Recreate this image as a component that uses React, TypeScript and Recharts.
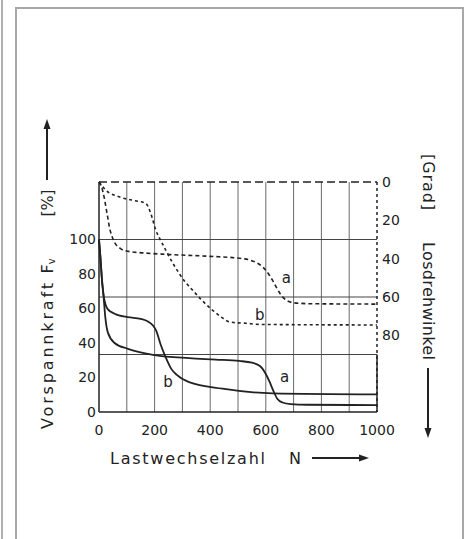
import React from 'react';
import { LineChart, Line, XAxis, YAxis, ReferenceLine, ReferenceDot } from 'recharts';

// Lastwechselzahl N ticks
const xTicks = [0, 200, 400, 600, 800, 1000];
const leftTicks = [0, 20, 40, 60, 80, 100];
const rightTicks = [0, 20, 40, 60, 80];
const vGrid = [100, 200, 300, 400, 500, 600, 700, 800, 900];
const hGrid = [100 / 3, 200 / 3, 100];

// Vorspannkraft F_v [%], curve a (solid)
const forceA_N = [0, 5, 10, 17, 22, 32, 56, 104, 200, 324, 420, 504, 550, 580, 600, 615, 628, 642, 660, 690, 750, 1000];
const forceA_V = [100, 90, 78, 66, 56, 46, 40, 36.6, 33, 31.2, 30.4, 29.6, 28.6, 26.5, 22, 17, 12, 7.5, 5.5, 4.6, 4.2, 4];

// Vorspannkraft F_v [%], curve b (solid)
const forceB_N = [0, 5, 10, 17, 24, 32, 56, 104, 150, 176, 195, 206, 222, 240, 260, 280, 324, 444, 624, 1000];
const forceB_V = [100, 90, 78, 67, 62, 59.5, 57, 55, 54, 52.5, 50, 47, 39, 31.7, 25, 21.5, 17.3, 13.5, 10.8, 10.2];

// Losdrehwinkel [Grad], curve a (dashed)
const angleA_N = [0, 8, 14, 20, 26, 32, 38, 46, 56, 75, 98, 160, 250, 400, 506, 540, 565, 590, 610, 625, 640, 655, 675, 700, 760, 1000];
const angleA_V = [0, 2, 5, 9, 14, 19, 24, 28, 31.5, 34.5, 36, 37, 37.8, 38.8, 39.8, 40.6, 42, 44.5, 48, 51.5, 55.5, 59, 61.8, 63, 63.5, 63.7];

// Losdrehwinkel [Grad], curve b (dashed)
const angleB_N = [0, 8, 24, 72, 130, 168, 186, 204, 222, 240, 264, 288, 312, 336, 372, 408, 440, 468, 500, 528, 576, 1000];
const angleB_V = [0, 1.5, 4.2, 7.7, 9.8, 11.1, 16.3, 25, 30.5, 35.5, 42, 47.6, 52.5, 56.3, 62, 66.8, 70.5, 72.9, 73.5, 73.7, 74.3, 74.6];

// curve labels: [name, N, value]
const forceLabels: [string, number, number][] = [['a', 668, 20.3], ['b', 248, 17.4]];
const angleLabels: [string, number, number][] = [['a', 674, 50], ['b', 578, 69.4]];

const toRows = (ns: number[], vs: number[]) => ns.map((n, i) => ({ n, v: vs[i] }));

const FONT = 'DejaVu Sans, sans-serif';
const INK = '#222';

function Frame() {
  return (
    <>
      <div style={{ position: 'absolute', left: 1, top: 0, width: 2, height: 539, background: '#b0b0b0' }} />
      <div style={{ position: 'absolute', left: 15, top: 7, width: 2, height: 532, background: '#a8a8a8' }} />
      <div style={{ position: 'absolute', left: 15, top: 7, width: 449, height: 2, background: '#a8a8a8' }} />
      <div style={{ position: 'absolute', left: 462, top: 7, width: 2, height: 532, background: '#a8a8a8' }} />
    </>
  );
}

function Titles() {
  const t = { fontFamily: FONT, fontSize: 16, fill: INK } as const;
  return (
    <g>
      {/* left title */}
      <text {...t} x={0} y={0} dominantBaseline="central" textAnchor="middle" textLength={146} lengthAdjust="spacing"
        transform="translate(47,356) rotate(-90)">Vorspannkraft</text>
      <text {...t} x={0} y={0} dominantBaseline="central" textAnchor="middle"
        transform="translate(47,266) rotate(-90)">F<tspan fontSize={10} dy={4}>v</tspan></text>
      <text {...t} x={0} y={0} dominantBaseline="central" textAnchor="middle" textLength={27} lengthAdjust="spacing"
        transform="translate(47,203) rotate(-90)">[%]</text>
      <line x1={47} y1={180} x2={47} y2={126} stroke={INK} strokeWidth={2} />
      <path d="M47,119 L43.5,129 L50.5,129 Z" fill={INK} />

      {/* bottom title */}
      <text {...t} x={110} y={458} dominantBaseline="central" textLength={155} lengthAdjust="spacing">Lastwechselzahl</text>
      <text {...t} x={289} y={458} dominantBaseline="central">N</text>
      <line x1={312} y1={458} x2={362} y2={458} stroke={INK} strokeWidth={2} />
      <path d="M369,458 L359,454.5 L359,461.5 Z" fill={INK} />

      {/* right title */}
      <text {...t} x={0} y={0} dominantBaseline="central" textAnchor="middle" textLength={56} lengthAdjust="spacing"
        transform="translate(428,182) rotate(90)">[Grad]</text>
      <text {...t} x={0} y={0} dominantBaseline="central" textAnchor="middle" textLength={118} lengthAdjust="spacing"
        transform="translate(428,301) rotate(90)">Losdrehwinkel</text>
      <line x1={428} y1={368} x2={428} y2={430} stroke={INK} strokeWidth={2} />
      <path d="M428,438 L424.5,428 L431.5,428 Z" fill={INK} />
    </g>
  );
}

export default function App() {
  const tickStyle = { fontFamily: FONT, fontSize: 14, fill: INK };
  const lbl = (v: string) => ({ value: v, position: 'center' as const, fill: INK, fontFamily: FONT, fontSize: 15 });
  return (
    <div style={{ position: 'absolute', left: 0, top: 0, width: 471, height: 539, background: '#fff', overflow: 'hidden' }}>
      <Frame />
      <LineChart width={471} height={539} margin={{ top: 182, right: 54, bottom: 97, left: 59 }}>
        <XAxis type="number" dataKey="n" domain={[0, 1000]} ticks={xTicks} tick={tickStyle}
          axisLine={{ stroke: INK, strokeWidth: 1.5 }} tickLine={false} tickSize={6} tickMargin={7} height={30} />
        <YAxis yAxisId="left" type="number" domain={[0, 400 / 3]} ticks={leftTicks} tick={tickStyle}
          axisLine={{ stroke: INK, strokeWidth: 1.5 }} tickLine={false} tickSize={3} tickMargin={0} width={40} />
        <YAxis yAxisId="right" orientation="right" type="number" reversed domain={[0, 120]} ticks={rightTicks}
          tick={{ ...tickStyle, textAnchor: 'start' }}
          axisLine={{ stroke: INK, strokeWidth: 1.5, strokeDasharray: '3 3' }} tickLine={false} tickSize={3} tickMargin={2} width={40} />

        {vGrid.map((x) => (
          <ReferenceLine key={'v' + x} yAxisId="left" x={x} stroke="#6a6a6a" strokeWidth={1} />
        ))}
        {hGrid.map((y) => (
          <ReferenceLine key={'h' + y} yAxisId="left" y={y} stroke="#444" strokeWidth={1} />
        ))}
        <ReferenceLine yAxisId="left" y={400 / 3} stroke={INK} strokeWidth={1.5} strokeDasharray="8 4" />
        <ReferenceLine yAxisId="left" segment={[{ x: 1000, y: 0 }, { x: 1000, y: 100 / 3 }]} stroke={INK} strokeWidth={1.5} />

        <Line yAxisId="left" data={toRows(forceA_N, forceA_V)} dataKey="v" type="monotone" stroke={INK}
          strokeWidth={1.8} dot={false} isAnimationActive={false} />
        <Line yAxisId="left" data={toRows(forceB_N, forceB_V)} dataKey="v" type="monotone" stroke={INK}
          strokeWidth={1.8} dot={false} isAnimationActive={false} />
        <Line yAxisId="right" data={toRows(angleA_N, angleA_V)} dataKey="v" type="monotone" stroke={INK}
          strokeWidth={1.6} strokeDasharray="4 3" dot={false} isAnimationActive={false} />
        <Line yAxisId="right" data={toRows(angleB_N, angleB_V)} dataKey="v" type="monotone" stroke={INK}
          strokeWidth={1.6} strokeDasharray="3 3" dot={false} isAnimationActive={false} />

        {forceLabels.map(([name, x, y]) => (
          <ReferenceDot key={'fl' + name} yAxisId="left" x={x} y={y} r={0} fill="none" stroke="none" label={lbl(name)} />
        ))}
        {angleLabels.map(([name, x, y]) => (
          <ReferenceDot key={'al' + name} yAxisId="right" x={x} y={y} r={0} fill="none" stroke="none" label={lbl(name)} />
        ))}
        <Titles />
      </LineChart>
    </div>
  );
}
